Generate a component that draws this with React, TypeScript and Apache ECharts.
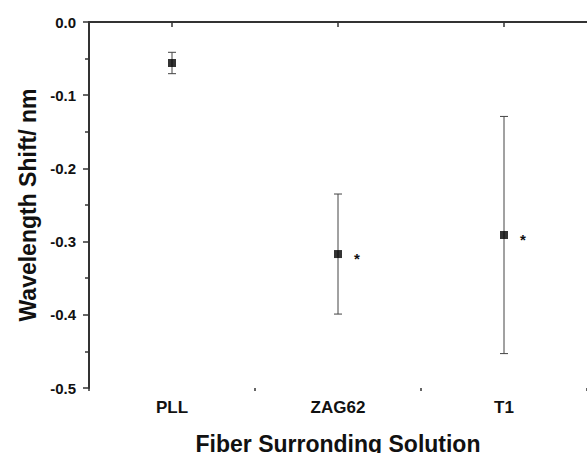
import React, { useEffect, useRef } from "react";
import * as echarts from "echarts";

const categories = ["PLL", "ZAG62", "T1"];
const means = [-0.056, -0.317, -0.291];
const errors = [0.0146, 0.082, 0.162];
const marks = ["", "*", "*"];
const yTicks = { min: -0.5, max: 0, interval: 0.1 };

const FONT = "'Liberation Sans', Arial, sans-serif";

export default function App() {
  const ref = useRef<HTMLDivElement>(null);
  useEffect(() => {
    const chart = echarts.init(ref.current!, null, { renderer: "svg" });
    const errData = categories.map((c, i) => [i, means[i] + errors[i], means[i] - errors[i], marks[i], means[i]]);
    const axisColor = "#333";
    chart.setOption({
      animation: false,
      backgroundColor: "#fff",
      grid: { left: 89, right: 0, top: 22, bottom: 65, containLabel: false, outerBoundsMode: "none" },
      xAxis: [
        {
          type: "category",
          data: categories,
          boundaryGap: true,
          axisLine: { show: true, lineStyle: { color: axisColor, width: 2 } },
          axisTick: { show: true, alignWithLabel: true, length: 5, lineStyle: { color: axisColor, width: 1.5 } },
          axisLabel: { color: "#111", fontFamily: FONT, fontWeight: "bold", fontSize: 17, margin: 11 },
          splitLine: { show: false },
          name: "Fiber Surronding Solution",
          nameLocation: "middle",
          nameGap: 44,
          nameTextStyle: { color: "#111", fontFamily: FONT, fontWeight: "bold", fontSize: 23 },
        },
        {
          type: "category",
          data: categories,
          boundaryGap: true,
          position: "bottom",
          axisLine: { show: false },
          axisTick: { show: true, length: 3, lineStyle: { color: axisColor, width: 1.5 } },
          axisLabel: { show: false },
          splitLine: { show: false },
        },
      ],
      yAxis: {
        type: "value",
        min: yTicks.min,
        max: yTicks.max,
        interval: yTicks.interval,
        axisLine: { show: true, lineStyle: { color: axisColor, width: 2 } },
        axisTick: { show: true, length: 6, lineStyle: { color: axisColor, width: 1.5 } },
        minorTick: { show: true, splitNumber: 2, length: 4, lineStyle: { color: axisColor, width: 1.5 } },
        axisLabel: {
          color: "#111",
          fontFamily: FONT,
          fontWeight: "bold",
          fontSize: 15,
          margin: 13,
          formatter: (v: number) => v.toFixed(1),
        },
        splitLine: { show: false },
        name: "Wavelength Shift/ nm",
        nameLocation: "middle",
        nameGap: 50,
        nameTextStyle: { color: "#111", fontFamily: FONT, fontWeight: "bold", fontSize: 23 },
      },
      series: [
        {
          type: "custom",
          xAxisIndex: 0,
          data: errData,
          renderItem: (params: any, api: any) => {
            const x = api.value(0);
            const hi = api.coord([x, api.value(1)]);
            const lo = api.coord([x, api.value(2)]);
            const mid = api.coord([x, api.value(4)]);
            const cap = 4;
            const style = { stroke: "#444", lineWidth: 1 };
            const children: any[] = [
              { type: "line", shape: { x1: hi[0], y1: hi[1], x2: lo[0], y2: lo[1] }, style },
              { type: "line", shape: { x1: hi[0] - cap, y1: hi[1], x2: hi[0] + cap, y2: hi[1] }, style },
              { type: "line", shape: { x1: lo[0] - cap, y1: lo[1], x2: lo[0] + cap, y2: lo[1] }, style },
            ];
            const m = api.value(3);
            if (m) {
              children.push({
                type: "text",
                x: mid[0] + 19,
                y: mid[1] + 4,
                style: { text: m, fill: "#111", font: `bold 15px ${FONT}`, align: "center", verticalAlign: "middle" },
              });
            }
            return { type: "group", children };
          },
          encode: { x: 0, y: [1, 2] },
          z: 1,
        },
        {
          type: "scatter",
          xAxisIndex: 0,
          data: means.map((v, i) => [i, v]),
          symbol: "rect",
          symbolSize: 8,
          itemStyle: { color: "#000" },
          z: 2,
        },
      ],
    });
    return () => chart.dispose();
  }, []);
  return <div ref={ref} style={{ width: 587, height: 453, position: "absolute", left: 0, top: 0 }} />;
}
